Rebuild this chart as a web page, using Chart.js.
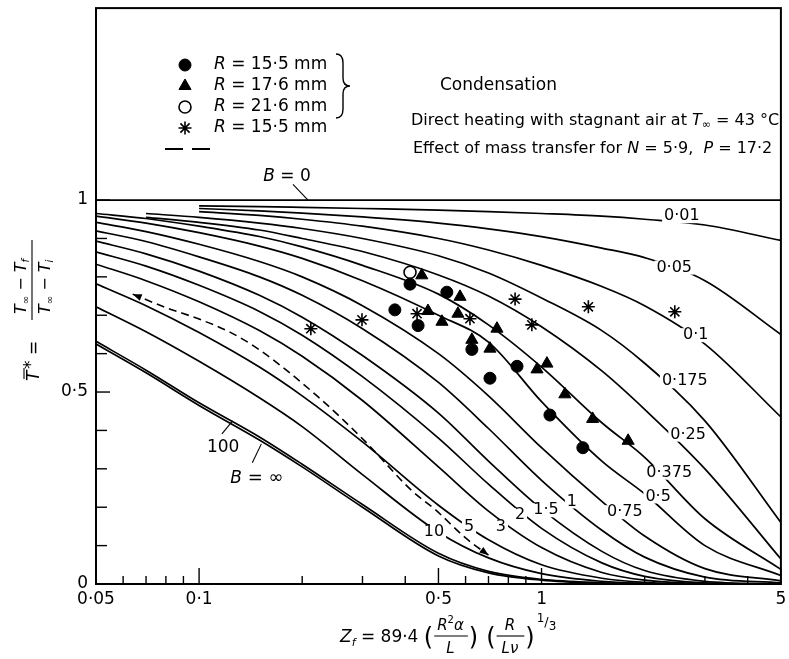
<!DOCTYPE html>
<html>
<head>
<meta charset="utf-8">
<title>Mean temperature against Zf</title>
<script src="https://cdn.jsdelivr.net/npm/chart.js@4.4.1/dist/chart.umd.min.js"></script>
<style>
  body { margin: 0; background: #fff; }
  canvas { display: block; }
</style>
</head>
<body>
<canvas id="tempChart" width="789" height="659"></canvas>
<script>
// Mean drop temperature T* against Zf, one curve per value of B

const zf = [0.05, 0.07, 0.1, 0.15, 0.2, 0.3, 0.5, 0.7, 1, 1.5, 2, 3, 5];

// theoretical curves (null = curve not drawn there)
const bZero  = [1, 1, 1, 1, 1, 1, 1, 1, 1, 1, 1, 1, 1];
const b001   = [null, null, 0.985, 0.983, 0.981, 0.978, 0.974, 0.97, 0.965, 0.958, 0.95, 0.935, 0.895];
const b005   = [null, null, 0.978, 0.972, 0.966, 0.956, 0.94, 0.925, 0.905, 0.875, 0.85, 0.79, 0.65];
const b01    = [null, null, 0.97, 0.96, 0.95, 0.932, 0.9, 0.87, 0.83, 0.775, 0.725, 0.625, 0.435];
const b0175  = [null, 0.965, 0.955, 0.94, 0.926, 0.9, 0.855, 0.81, 0.745, 0.66, 0.575, 0.425, 0.16];
const b025   = [null, 0.955, 0.942, 0.922, 0.9, 0.866, 0.805, 0.75, 0.67, 0.555, 0.455, 0.3, 0.065];
const b0375  = [0.965, 0.952, 0.932, 0.905, 0.878, 0.83, 0.755, 0.675, 0.565, 0.42, 0.33, 0.17, 0.038];
const b05    = [0.958, 0.94, 0.915, 0.88, 0.848, 0.79, 0.7, 0.63, 0.475, 0.32, 0.235, 0.1, 0.022];
const b075   = [0.942, 0.918, 0.885, 0.84, 0.8, 0.725, 0.6, 0.49, 0.355, 0.215, 0.125, 0.04, 0.008];
const b1     = [0.92, 0.892, 0.852, 0.8, 0.752, 0.665, 0.525, 0.405, 0.27, 0.14, 0.07, 0.018, 0.003];
const b15    = [0.893, 0.86, 0.815, 0.752, 0.695, 0.595, 0.445, 0.32, 0.195, 0.085, 0.035, 0.007, 0];
const b2     = [0.865, 0.828, 0.778, 0.71, 0.648, 0.54, 0.38, 0.26, 0.145, 0.055, 0.02, 0.003, 0];
const b3     = [0.833, 0.79, 0.735, 0.66, 0.593, 0.478, 0.305, 0.19, 0.095, 0.03, 0.01, 0.001, 0];
const b5     = [0.782, 0.725, 0.655, 0.565, 0.49, 0.37, 0.205, 0.115, 0.05, 0.015, 0.004, 0, 0];
const b10    = [0.722, 0.657, 0.58, 0.485, 0.41, 0.285, 0.135, 0.068, 0.027, 0.007, 0.002, 0, 0];
const b100   = [0.632, 0.557, 0.472, 0.383, 0.312, 0.207, 0.08, 0.033, 0.012, 0.003, 0, 0, 0];
const bInf   = [0.625, 0.55, 0.465, 0.375, 0.305, 0.2, 0.073, 0.029, 0.01, 0.002, 0, 0, 0];

// dashed curve: effect of mass transfer
const massZf = [0.064, 0.08, 0.1, 0.123, 0.15, 0.221, 0.305, 0.418, 0.489, 0.6, 0.7];
const massT  = [0.755, 0.72, 0.69, 0.656, 0.61, 0.49, 0.372, 0.243, 0.194, 0.12, 0.075];

// measurements
const condA_x = [0.413, 0.373, 0.436, 0.529, 0.626, 0.707, 0.848, 1.058, 1.32];       // R = 15.5 mm
const condA_y = [0.781, 0.714, 0.673, 0.76, 0.611, 0.536, 0.567, 0.44, 0.355];
const condB_x = [0.447, 0.578, 0.466, 0.512, 0.57, 0.741, 0.626, 0.707, 1.037, 0.97, 1.17, 1.41, 1.79]; // R = 17.6 mm
const condB_y = [0.804, 0.748, 0.711, 0.683, 0.704, 0.665, 0.636, 0.613, 0.574, 0.559, 0.494, 0.43, 0.373];
const condC_x = [0.413];                                                              // R = 21.6 mm
const condC_y = [0.812];
const airA_x  = [0.212, 0.299, 0.433, 0.618, 0.837, 0.937, 1.37, 2.45];               // direct heating
const airA_y  = [0.665, 0.688, 0.704, 0.691, 0.742, 0.675, 0.722, 0.709];

// axis ticks
const xTickValues = [0.05, 0.06, 0.07, 0.08, 0.09, 0.1, 0.2, 0.3, 0.4, 0.5, 0.6, 0.7, 0.8, 0.9, 1, 2, 3, 4, 5];
const xMajor = [0.05, 0.1, 0.5, 1, 5];
const xMajorLabels = ['0·05', '0·1', '0·5', '1', '5'];
const yTickValues = [0, 0.1, 0.2, 0.3, 0.4, 0.5, 0.6, 0.7, 0.8, 0.9, 1];
const yMajor = [0, 0.5, 1];
const yMajorLabels = ['0', '0·5', '1'];

// curve labels, placed in data coordinates
const curveLabelText = ['0·01', '0·05', '0·1', '0·175', '0·25', '0·375', '0·5', '0·75', '1', '1·5', '2', '3', '5', '10'];
const curveLabelX    = [2.57, 2.44, 2.82, 2.62, 2.68, 2.36, 2.19, 1.75, 1.227, 1.03, 0.865, 0.761, 0.614, 0.485];
const curveLabelY    = [0.958, 0.824, 0.648, 0.528, 0.389, 0.29, 0.228, 0.187, 0.215, 0.192, 0.179, 0.148, 0.15, 0.135];

const FONT = '"DejaVu Sans", "Liberation Sans", sans-serif';

function toPoints(xs, ys) {
  const pts = [];
  xs.forEach((x, i) => { if (ys[i] !== null) pts.push({ x: x, y: ys[i] }); });
  return pts;
}

const curves = [bZero, b001, b005, b01, b0175, b025, b0375, b05, b075, b1, b15, b2, b3, b5, b10, b100, bInf];

const datasets = curves.map(arr => ({
  type: 'line',
  data: toPoints(zf, arr),
  borderColor: '#000',
  borderWidth: 1.7,
  pointRadius: 0,
  fill: false,
  cubicInterpolationMode: 'monotone'
}));

datasets.push({
  type: 'line',
  data: toPoints(massZf, massT),
  borderColor: '#000',
  borderWidth: 1.6,
  borderDash: [8, 5],
  pointRadius: 0,
  fill: false,
  cubicInterpolationMode: 'monotone'
});

datasets.push({ type: 'scatter', data: toPoints(condA_x, condA_y), pointStyle: 'circle', pointRadius: 6, backgroundColor: '#000', borderColor: '#000', borderWidth: 1 });
datasets.push({ type: 'scatter', data: toPoints(condB_x, condB_y), pointStyle: 'triangle', pointRadius: 7, backgroundColor: '#000', borderColor: '#000', borderWidth: 1 });
datasets.push({ type: 'scatter', data: toPoints(condC_x, condC_y), pointStyle: 'circle', pointRadius: 6, backgroundColor: '#fff', borderColor: '#000', borderWidth: 1.6 });
datasets.push({ type: 'scatter', data: toPoints(airA_x, airA_y), pointStyle: 'star', pointRadius: 6.5, backgroundColor: '#000', borderColor: '#000', borderWidth: 1.6 });

// write a run of text pieces: [text, italic, dy, size]
function runs(ctx, parts, x, y) {
  let cx = x;
  parts.forEach(p => {
    const size = p[3] || 16;
    ctx.font = (p[1] ? 'italic ' : '') + size + 'px ' + FONT;
    ctx.fillText(p[0], cx, y + (p[2] || 0));
    cx += ctx.measureText(p[0]).width;
  });
  return cx;
}

function marker(ctx, style, x, y, fill) {
  ctx.fillStyle = fill;
  ctx.strokeStyle = '#000';
  ctx.lineWidth = style === 'circle' && fill === '#fff' ? 1.6 : (style === 'star' ? 1.6 : 1);
  const r = style === 'triangle' ? 7 : (style === 'star' ? 6.5 : 6);
  Chart.helpers.drawPoint(ctx, { pointStyle: style, radius: r, borderWidth: ctx.lineWidth, rotation: 0 }, x, y);
}

// small filled arrow head at (x, y) pointing along angle
function arrowHead(ctx, x, y, angle) {
  ctx.save();
  ctx.translate(x, y);
  ctx.rotate(angle);
  ctx.beginPath();
  ctx.moveTo(0, 0);
  ctx.lineTo(-9, -3.5);
  ctx.lineTo(-9, 3.5);
  ctx.closePath();
  ctx.fill();
  ctx.restore();
}

function drawLegend(ctx) {
  ctx.textAlign = 'left';
  ctx.textBaseline = 'middle';
  const rows = [65, 86, 107, 128];
  const styles = [['circle', '#000'], ['triangle', '#000'], ['circle', '#fff'], ['star', '#000']];
  const radii = ['15·5', '17·6', '21·6', '15·5'];
  rows.forEach((ry, i) => {
    marker(ctx, styles[i][0], 185, ry, styles[i][1]);
    ctx.fillStyle = '#000';
    runs(ctx, [['R', true, 0, 17], [' = ' + radii[i] + ' mm', false, 0, 17]], 214, ry);
  });
  // dashed sample
  ctx.strokeStyle = '#000';
  ctx.lineWidth = 1.8;
  ctx.beginPath();
  ctx.moveTo(165, 149); ctx.lineTo(183, 149);
  ctx.moveTo(192, 149); ctx.lineTo(210, 149);
  ctx.stroke();
  // brace over the condensation rows
  ctx.lineWidth = 1.4;
  ctx.beginPath();
  ctx.moveTo(336, 54);
  ctx.quadraticCurveTo(343, 54, 343, 63);
  ctx.lineTo(343, 78);
  ctx.quadraticCurveTo(343, 86, 350, 86);
  ctx.quadraticCurveTo(343, 86, 343, 94);
  ctx.lineTo(343, 109);
  ctx.quadraticCurveTo(343, 118, 336, 118);
  ctx.stroke();
  ctx.fillStyle = '#000';
  runs(ctx, [['Condensation', false, 0, 17]], 440, 86);
  runs(ctx, [['Direct heating with stagnant air at ', false], ['T', true], ['∞', false, 4, 11], [' = 43 °C', false]], 411, 121);
  runs(ctx, [['Effect of mass transfer for ', false], ['N', true], [' = 5·9,  ', false], ['P', true], [' = 17·2', false]], 413, 149);
}

function drawXTitle(ctx) {
  ctx.fillStyle = '#000';
  ctx.strokeStyle = '#000';
  ctx.lineWidth = 1.1;
  ctx.textAlign = 'left';
  ctx.textBaseline = 'alphabetic';
  const base = 642;
  let cx = runs(ctx, [['Z', true, 0, 17], ['f', true, 4, 11], [' = 89·4 ', false, 0, 17]], 340, base);
  // first bracket (R²α / L)
  cx = runs(ctx, [['(', false, 3, 24]], cx, base);
  ctx.font = 'italic 15px ' + FONT;
  const a = ctx.measureText('R').width + ctx.measureText('α').width;
  ctx.font = '10px ' + FONT;
  const w1 = a + ctx.measureText('2').width + 8;
  runs(ctx, [['R', true, 0, 15], ['2', false, -7, 10], ['α', true, 0, 15]], cx + 4, base - 12);
  ctx.beginPath(); ctx.moveTo(cx + 1, base - 6); ctx.lineTo(cx + w1, base - 6); ctx.stroke();
  ctx.font = 'italic 15px ' + FONT;
  ctx.fillText('L', cx + w1 / 2 - ctx.measureText('L').width / 2, base + 11);
  cx += w1 + 1;
  cx = runs(ctx, [[')', false, 3, 24]], cx, base);
  cx += 8;
  // second bracket (R / Lν)
  cx = runs(ctx, [['(', false, 3, 24]], cx, base);
  ctx.font = 'italic 15px ' + FONT;
  const w2 = ctx.measureText('Lν').width + 12;
  ctx.fillText('R', cx + w2 / 2 - ctx.measureText('R').width / 2, base - 12);
  ctx.beginPath(); ctx.moveTo(cx + 1, base - 6); ctx.lineTo(cx + w2, base - 6); ctx.stroke();
  ctx.fillText('Lν', cx + 6, base + 11);
  cx += w2 + 1;
  cx = runs(ctx, [[')', false, 3, 24]], cx, base);
  runs(ctx, [['1', false, -20, 12], ['/', false, -16, 13], ['3', false, -12, 12]], cx + 2, base);
}

function drawYTitle(ctx) {
  ctx.save();
  ctx.translate(32, 310);
  ctx.rotate(-Math.PI / 2);
  ctx.fillStyle = '#000';
  ctx.strokeStyle = '#000';
  ctx.lineWidth = 1.1;
  ctx.textAlign = 'left';
  ctx.textBaseline = 'alphabetic';
  // T-bar-star =
  ctx.font = 'italic 17px ' + FONT;
  ctx.fillText('T', -71, 7);
  ctx.beginPath(); ctx.moveTo(-69, -8); ctx.lineTo(-58, -8); ctx.stroke();
  runs(ctx, [['*', false, -3, 17], [' =', false, 0, 17]], -59, 7);
  // fraction
  ctx.beginPath(); ctx.moveTo(-10, 0); ctx.lineTo(70, 0); ctx.stroke();
  runs(ctx, [['T', true, 0, 16], ['∞', false, 3, 10], [' − ', false, 0, 16], ['T', true, 0, 16], ['f', true, 3, 10]], -4, -6);
  runs(ctx, [['T', true, 0, 16], ['∞', false, 3, 10], [' − ', false, 0, 16], ['T', true, 0, 16], ['i', true, 3, 10]], -4, 18);
  ctx.restore();
}

const decorPlugin = {
  id: 'decor',
  afterDatasetsDraw(chart) {
    const { ctx, chartArea: a, scales: { x, y } } = chart;
    ctx.save();

    // frame
    ctx.strokeStyle = '#000';
    ctx.lineWidth = 2;
    ctx.strokeRect(a.left, a.top, a.right - a.left, a.bottom - a.top);

    // inward ticks
    ctx.lineWidth = 1.4;
    xTickValues.forEach(v => {
      const px = x.getPixelForValue(v);
      const len = xMajor.includes(v) ? 16 : 8;
      ctx.beginPath(); ctx.moveTo(px, a.bottom); ctx.lineTo(px, a.bottom - len); ctx.stroke();
    });
    yTickValues.forEach(v => {
      const py = y.getPixelForValue(v);
      const len = yMajor.includes(v) ? 14 : 11;
      ctx.beginPath(); ctx.moveTo(a.left, py); ctx.lineTo(a.left + len, py); ctx.stroke();
    });

    // arrow heads on the dashed curve, at its first and last points
    ctx.fillStyle = '#000';
    const m = chart.getDatasetMeta(curves.length).data;
    const p0 = m[0], p1 = m[1], pn = m[m.length - 1], pm = m[m.length - 2];
    arrowHead(ctx, p0.x, p0.y, Math.atan2(p0.y - p1.y, p0.x - p1.x));
    arrowHead(ctx, pn.x, pn.y, Math.atan2(pn.y - pm.y, pn.x - pm.x));

    // curve labels
    ctx.textAlign = 'center';
    ctx.textBaseline = 'middle';
    ctx.font = '16px ' + FONT;
    curveLabelText.forEach((t, i) => {
      const px = x.getPixelForValue(curveLabelX[i]);
      const py = y.getPixelForValue(curveLabelY[i]);
      const w = ctx.measureText(t).width;
      ctx.fillStyle = '#fff';
      ctx.fillRect(px - w / 2 - 2, py - 7, w + 4, 14);
      ctx.fillStyle = '#000';
      ctx.fillText(t, px, py);
    });

    // labels with leader lines
    const lead = (x0, y0, x1, y1) => {
      ctx.beginPath();
      ctx.moveTo(x.getPixelForValue(x0), y.getPixelForValue(y0));
      ctx.lineTo(x.getPixelForValue(x1), y.getPixelForValue(y1));
      ctx.stroke();
    };
    ctx.lineWidth = 1.1;
    lead(0.188, 1.041, 0.208, 1.0);
    lead(0.1166, 0.391, 0.1253, 0.425);
    lead(0.143, 0.316, 0.152, 0.365);
    ctx.fillStyle = '#000';
    ctx.textAlign = 'left';
    let px = x.getPixelForValue(0.176) - 20;
    let py = y.getPixelForValue(1.06);
    runs(ctx, [['B', true, 0, 17], [' = 0', false, 0, 17]], px, py);
    px = x.getPixelForValue(0.1166) - 15;
    py = y.getPixelForValue(0.355);
    runs(ctx, [['100', false, 0, 17]], px, py);
    px = x.getPixelForValue(0.146) - 25;
    py = y.getPixelForValue(0.275);
    runs(ctx, [['B', true, 0, 17], [' = ∞', false, 0, 18]], px, py);

    drawLegend(ctx);
    drawXTitle(ctx);
    drawYTitle(ctx);
    ctx.restore();
  }
};

Chart.defaults.font.family = FONT;
Chart.defaults.color = '#000';

const ctx = document.getElementById('tempChart').getContext('2d');

new Chart(ctx, {
  type: 'line',
  data: { datasets: datasets },
  options: {
    responsive: false,
    animation: false,
    devicePixelRatio: 1,
    layout: { padding: { left: 0, right: 8, top: 5, bottom: 0 } },
    scales: {
      x: {
        type: 'logarithmic',
        min: 0.05,
        max: 5,
        afterBuildTicks: (scale) => { scale.ticks = xTickValues.map(v => ({ value: v })); },
        afterFit: (scale) => { scale.height = 75; scale.paddingLeft = 0; scale.paddingRight = 0; },
        ticks: {
          autoSkip: false,
          maxRotation: 0,
          padding: 5,
          font: { size: 17 },
          color: '#000',
          callback: (value) => {
            const i = xMajor.indexOf(value);
            return i >= 0 ? xMajorLabels[i] : '';
          }
        },
        grid: { display: false, drawTicks: false },
        border: { display: false }
      },
      y: {
        type: 'linear',
        min: 0,
        max: 1.5,
        afterBuildTicks: (scale) => { scale.ticks = yTickValues.map(v => ({ value: v })); },
        afterFit: (scale) => { scale.width = 96; scale.paddingTop = 0; scale.paddingBottom = 0; },
        ticks: {
          autoSkip: false,
          padding: 8,
          font: { size: 17 },
          color: '#000',
          callback: (value) => {
            const i = yMajor.indexOf(value);
            return i >= 0 ? yMajorLabels[i] : '';
          }
        },
        grid: { display: false, drawTicks: false },
        border: { display: false }
      }
    },
    plugins: {
      legend: { display: false },
      tooltip: { enabled: false }
    }
  },
  plugins: [decorPlugin]
});
</script>
</body>
</html>
